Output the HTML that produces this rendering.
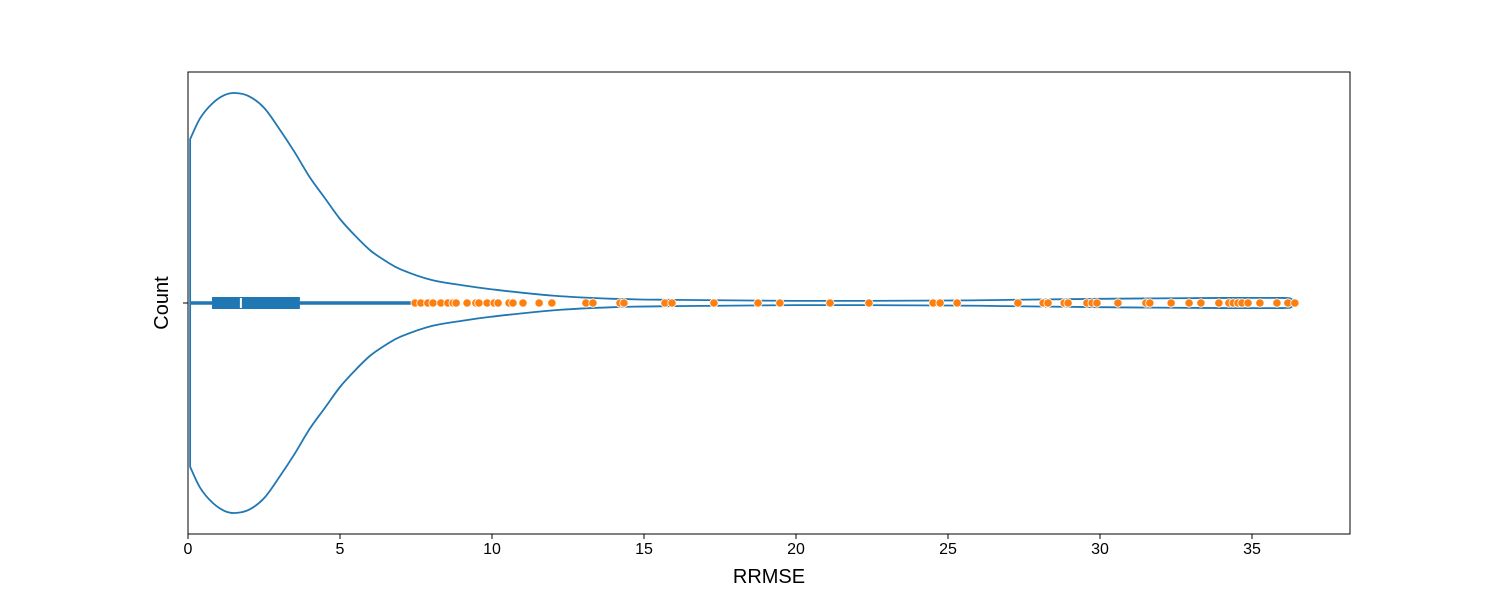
<!DOCTYPE html>
<html><head><meta charset="utf-8"><style>
html,body{margin:0;padding:0;background:#fff;}
svg text{font-family:"Liberation Sans","DejaVu Sans",sans-serif;}
</style></head><body>
<svg id="chart" width="1500" height="600">
<g id="plot"></g>
</svg>
<script>
const tickValues=[0,5,10,15,20,25,30,35];
const points=[7.47,7.66,7.89,8.06,8.32,8.55,8.72,8.82,9.18,9.47,9.57,9.84,10.07,10.20,10.56,10.69,11.02,11.55,11.97,13.09,13.32,14.21,14.34,15.69,15.92,17.30,18.75,19.47,21.12,22.40,24.51,24.74,25.30,27.30,28.13,28.29,28.82,28.95,29.57,29.74,29.90,30.59,31.51,31.64,32.34,32.93,33.32,33.91,34.24,34.38,34.54,34.67,34.87,35.26,35.82,36.18,36.41];
const densX=[0.07,0.4,0.8,1.2,1.55,2.0,2.5,3.0,3.5,4.0,4.5,5.0,5.5,6.0,6.5,7.0,8.0,9.0,10.0,12.0,14.0,16.0,20.0,25.0,27.0,30.0,34.0,36.0,36.3,36.45];
const densY=[0.78,0.88,0.95,0.99,1.0,0.985,0.93,0.83,0.72,0.6,0.5,0.40,0.32,0.25,0.2,0.16,0.11,0.085,0.065,0.035,0.02,0.015,0.01,0.012,0.015,0.02,0.024,0.024,0.018,0.0];
const boxStats=[0.07,0.79,1.74,3.68,7.4];
const L=188,R=1350,T=72,B=534,CY=303,HW=210;
const xs=v=>L+v*30.4;
const NS='http://www.w3.org/2000/svg';
const g=document.getElementById('plot');
function mk(t,a){const e=document.createElementNS(NS,t);for(const k in a)e.setAttribute(k,a[k]);g.appendChild(e);return e;}
function smooth(pts){
  let d='M'+pts[0][0]+','+pts[0][1];
  for(let i=0;i<pts.length-1;i++){
    const p0=pts[Math.max(0,i-1)],p1=pts[i],p2=pts[i+1],p3=pts[Math.min(pts.length-1,i+2)];
    const c1x=p1[0]+(p2[0]-p0[0])/6,c1y=p1[1]+(p2[1]-p0[1])/6;
    const c2x=p2[0]-(p3[0]-p1[0])/6,c2y=p2[1]-(p3[1]-p1[1])/6;
    d+=' C'+c1x+','+c1y+' '+c2x+','+c2y+' '+p2[0]+','+p2[1];
  }
  return d;
}
const topPts=densX.map((x,i)=>[xs(x),CY-densY[i]*HW]);
const botPts=densX.map((x,i)=>[xs(x),CY+densY[i]*HW]);
const vd=smooth(topPts)+' '+smooth(botPts.slice().reverse()).replace('M','L')+' Z';
const v=mk('path',{d:vd,fill:'none',stroke:'#1f77b4','stroke-width':1.8});


const wl=mk('line',{x1:xs(boxStats[0]),x2:xs(boxStats[4]),y1:CY,y2:CY,stroke:'#1f77b4','stroke-width':3.5});


const bx=mk('rect',{x:xs(boxStats[1]),y:CY-6,width:xs(boxStats[3])-xs(boxStats[1]),height:12,fill:'#1f77b4'});


const md=mk('line',{x1:xs(boxStats[2]),x2:xs(boxStats[2]),y1:CY-5,y2:CY+5,stroke:'#fff','stroke-width':2});


points.forEach(p=>{
const c=mk('circle',{cx:xs(p),cy:CY,r:4.2,fill:'#ff7f0e',stroke:'#fff','stroke-width':0.8});


});
const fr=mk('rect',{x:L,y:T,width:R-L,height:B-T,fill:'none',stroke:'#000','stroke-width':1});


tickValues.forEach(t=>{
const tl=mk('line',{x1:xs(t),x2:xs(t),y1:B,y2:B+5,stroke:'#000'});


const tx=mk('text',{x:xs(t),y:B+20,'text-anchor':'middle','font-size':16});
tx.textContent=t;


});
const yt=mk('line',{x1:L-5,x2:L,y1:CY,y2:CY,stroke:'#000'});


const xl=mk('text',{x:(L+R)/2,y:583,'text-anchor':'middle','font-size':20});
xl.textContent='RRMSE';


const yl=mk('text',{x:168,y:CY,'text-anchor':'middle','font-size':20,transform:'rotate(-90 168 '+CY+')'});
yl.textContent='Count';


</script>
</body></html>
